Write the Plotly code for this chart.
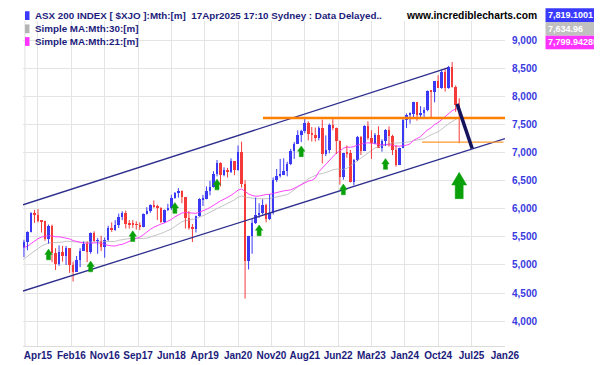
import plotly.graph_objects as go
import pandas as pd

# ---------------- data ----------------
# monthly closes before the visible window (Jun 2012 .. Nov 2014), used for the moving averages
pre_closes = [4095, 4281, 4316, 4387, 4517, 4506, 4649,
              4879, 5104, 4967, 5191, 4926, 4803, 5052, 5135, 5218, 5425, 5320, 5352,
              5190, 5405, 5395, 5489, 5493, 5396, 5633, 5626, 5292, 5526, 5313]

# visible candles Dec 2014 .. Apr 2025
months = [str(p) for p in pd.period_range("2014-12", "2025-04", freq="M")]
opens = [5313,
         5411, 5588, 5929, 5891, 5790, 5777, 5459, 5699, 5207, 5022, 5239, 5166,
         5296, 5005, 4880, 5082, 5252, 5378, 5233, 5562, 5433, 5436, 5317, 5440,
         5666, 5621, 5712, 5864, 5924, 5724, 5721, 5720, 5715, 5682, 5909, 5970,
         6065, 6037, 6016, 5759, 5982, 6012, 6195, 6280, 6320, 6208, 5830, 5667,
         5646, 5865, 6169, 6181, 6326, 6397, 6619, 6813, 6605, 6688, 6663, 6846,
         6684, 7017, 6441, 5077, 5522, 5756, 5898, 5928, 6061, 5816, 5928, 6518,
         6588, 6607, 6673, 6791, 7025, 7162, 7313, 7393, 7535, 7332, 7324, 7256,
         7445, 6971, 7049, 7499, 7435, 7211, 6568, 6993, 6987, 6475, 6863, 7284,
         7039, 7476, 7258, 7178, 7309, 7091, 7203, 7410, 7305, 7049, 6781, 7087,
         7590, 7681, 7699, 7897, 7664, 7702, 7767, 8092, 8091, 8270, 8160, 8436,
         8159, 8532, 8172, 7843]
highs = [5450,
         5600, 5940, 5982, 5996, 5800, 5790, 5720, 5720, 5300, 5350, 5340, 5340,
         5300, 5060, 5160, 5300, 5420, 5420, 5580, 5600, 5480, 5520, 5490, 5700,
         5760, 5800, 5915, 5957, 5970, 5800, 5800, 5780, 5760, 5920, 6030, 6080,
         6150, 6075, 6030, 5990, 6090, 6250, 6300, 6370, 6330, 6210, 5960, 5730,
         5880, 6190, 6250, 6400, 6500, 6670, 6870, 6830, 6740, 6730, 6900, 6850,
         7130, 7197, 6510, 5520, 5820, 6200, 6100, 6170, 6090, 6260, 6560, 6710,
         6890, 6900, 6840, 7070, 7190, 7400, 7410, 7632, 7560, 7460, 7450, 7470,
         7590, 7310, 7520, 7600, 7450, 7220, 7000, 7130, 7050, 6890, 7300, 7300,
         7490, 7560, 7400, 7350, 7470, 7240, 7420, 7470, 7320, 7130, 7090, 7630,
         7700, 7720, 7910, 7900, 7830, 7810, 8110, 8100, 8270, 8380, 8480, 8514,
         8548, 8615, 8200, 7970]
lows = [5140,
        5262, 5580, 5750, 5760, 5580, 5430, 5380, 5050, 4910, 4985, 5060, 5000,
        4860, 4707, 4880, 4960, 5250, 5050, 5200, 5420, 5200, 5250, 5130, 5430,
        5590, 5610, 5660, 5800, 5650, 5650, 5660, 5630, 5620, 5670, 5900, 5930,
        6020, 5800, 5750, 5750, 5960, 5980, 6180, 6200, 6100, 5650, 5630, 5410,
        5580, 5860, 6050, 6170, 6240, 6380, 6580, 6400, 6580, 6560, 6640, 6600,
        6680, 6380, 4402, 4920, 5200, 5730, 5840, 5900, 5760, 5800, 5900, 6480,
        6560, 6600, 6580, 6780, 6890, 7160, 7190, 7350, 7220, 7200, 7200, 7220,
        6810, 6940, 6990, 7400, 6980, 6433, 6520, 6910, 6470, 6420, 6850, 6960,
        7030, 7230, 6890, 7150, 7090, 7020, 7120, 7110, 6960, 6751, 6780, 7080,
        7440, 7520, 7600, 7570, 7600, 7630, 7740, 7630, 7900, 8160, 8140, 8090,
        8140, 8160, 7730, 7169]
closes = [5411,
          5588, 5929, 5891, 5790, 5777, 5459, 5699, 5207, 5022, 5239, 5166, 5296,
          5005, 4880, 5082, 5252, 5378, 5233, 5562, 5433, 5436, 5317, 5440, 5666,
          5621, 5712, 5864, 5924, 5724, 5721, 5720, 5715, 5682, 5909, 5970, 6065,
          6037, 6016, 5759, 5982, 6012, 6195, 6280, 6320, 6208, 5830, 5667, 5646,
          5865, 6169, 6181, 6326, 6397, 6619, 6813, 6605, 6688, 6663, 6846, 6684,
          7017, 6441, 5077, 5522, 5756, 5898, 5928, 6061, 5816, 5928, 6518, 6588,
          6607, 6673, 6791, 7025, 7162, 7313, 7393, 7535, 7332, 7324, 7256, 7445,
          6971, 7049, 7499, 7435, 7211, 6568, 6993, 6987, 6475, 6863, 7284, 7039,
          7476, 7258, 7178, 7309, 7091, 7203, 7410, 7305, 7049, 6781, 7087, 7590,
          7681, 7699, 7897, 7664, 7702, 7767, 8092, 8091, 8270, 8160, 8436, 8159,
          8532, 8172, 7843, 7819.1001]

x_tick_labels = ["Apr15", "Feb16", "Nov16", "Sep17", "Jun18", "Apr19", "Jan20", "Nov20",
                 "Aug21", "Jun22", "Mar23", "Jan24", "Oct24", "Jul25", "Jan26"]
x_tick_step = 9.5          # months between labelled grid lines
y_tick_values = [4000, 4500, 5000, 5500, 6000, 6500, 7000, 7500, 8000, 8500, 9000]

# drawn objects (months counted from Apr 2015, price values)
upper_channel_m = [-4.27, 116.8]
upper_channel_v = [6073, 8513]
lower_channel_m = [-4.27, 133.05]
lower_channel_v = [4536, 7251]
resistance_m = [64.1, 133.05]
resistance_v = [7620, 7620]
support_m = [109.4, 132.6]
support_v = [7191, 7191]
projection_m = [119.4, 123.7]
projection_v = [7870, 7075]
arrow_months = [3, 15, 27, 39, 51, 63, 75, 87, 99]
arrow_tips = [5283, 5070, 5609, 6113, 6530, 5713, 7122, 6443, 6896]
big_arrow_month = [120]
big_arrow_tip = [6652]

value_labels = ["7,819.1001", "7,634.96", "7,799.942857"]

# ---------------- layout geometry ----------------
W, H = 602, 365
L, R, T, B = 15, 497, 13, 346
XMIN, XMAX = -4.27, 133.05
YMIN, YMAX = 3556.5, 9000 + (33 - 13) / 0.0575
PXM = (R - L) / (XMAX - XMIN)
PXV = (B - T) / (YMAX - YMIN)

FONT = "Liberation Sans, Arial, sans-serif"
BLUE = "#3a3af5"
RED = "#f53a3a"
NAVY = "#1c1c7c"

m_index = list(range(-4, -4 + len(months)))

fig = go.Figure()

# moving averages
all_closes = pd.Series(pre_closes + closes)
ma30 = all_closes.rolling(30).mean()
ma21 = all_closes.rolling(21).mean()
start = len(pre_closes) - 1
ma_m = list(range(-5, -5 + len(all_closes) - start))
fig.add_trace(go.Scatter(x=ma_m, y=ma30.iloc[start:].tolist(), mode="lines",
                         line=dict(color="#c4c4c4", width=1), hoverinfo="skip"))
fig.add_trace(go.Scatter(x=ma_m, y=ma21.iloc[start:].tolist(), mode="lines",
                         line=dict(color="#ff44ff", width=1), hoverinfo="skip"))

# candles
for up, col in ((True, BLUE), (False, RED)):
    wx, wy, bx, bh, bb = [], [], [], [], []
    for m, o, h, l, c in zip(m_index, opens, highs, lows, closes):
        if (c >= o) != up:
            continue
        wx += [m, m, None]
        wy += [l, h, None]
        bx.append(m)
        bh.append(max(abs(c - o), 12))
        bb.append(min(o, c))
    fig.add_trace(go.Scatter(x=wx, y=wy, mode="lines", line=dict(color=col, width=1),
                             hoverinfo="skip"))
    fig.add_trace(go.Bar(x=bx, y=bh, base=bb, width=0.72, marker=dict(color=col, line=dict(width=0))))

# channel and level lines
fig.add_trace(go.Scatter(x=upper_channel_m, y=upper_channel_v, mode="lines",
                         line=dict(color="#2e2e8e", width=1.3)))
fig.add_trace(go.Scatter(x=lower_channel_m, y=lower_channel_v, mode="lines",
                         line=dict(color="#2e2e8e", width=1.3)))
fig.add_trace(go.Scatter(x=resistance_m, y=resistance_v, mode="lines",
                         line=dict(color="#ff8000", width=2.6)))
fig.add_trace(go.Scatter(x=support_m, y=support_v, mode="lines",
                         line=dict(color="#ff9a2e", width=1.3)))
fig.add_trace(go.Scatter(x=projection_m, y=projection_v, mode="lines",
                         line=dict(color="#14145e", width=3.5)))


# green arrows (pixel-sized glyphs anchored at data tips)
def arrow_path(ms, tips, head_h, head_hw, shaft_hw, total_h):
    xs, ys = [], []
    for m, v in zip(ms, tips):
        pts = [(0, 0), (head_hw, head_h), (shaft_hw, head_h), (shaft_hw, total_h),
               (-shaft_hw, total_h), (-shaft_hw, head_h), (-head_hw, head_h), (0, 0)]
        for dx, dy in pts:
            xs.append(m + dx / PXM)
            ys.append(v - dy / PXV)
        xs.append(None)
        ys.append(None)
    return xs, ys


ax, ay = arrow_path(arrow_months, arrow_tips, 5.5, 3.7, 2.0, 11)
fig.add_trace(go.Scatter(x=ax, y=ay, mode="lines", fill="toself", fillcolor="#0aa00a",
                         line=dict(color="#0aa00a", width=0.5)))
bx_, by_ = arrow_path(big_arrow_month, big_arrow_tip, 13, 7.5, 4.0, 27)
fig.add_trace(go.Scatter(x=bx_, y=by_, mode="lines", fill="toself", fillcolor="#0aa00a",
                         line=dict(color="#0aa00a", width=0.5)))


def px(xp, yp):
    return (xp - L) / (R - L), (B - yp) / (B - T)


annotations = []
shapes = []


def text(xp, yp, s, color, size=10, anchor="left"):
    x, y = px(xp, yp)
    annotations.append(dict(x=x, y=y, xref="paper", yref="paper", text="<b>" + s + "</b>",
                            showarrow=False, xanchor=anchor, yanchor="middle", borderpad=0,
                            font=dict(family=FONT, size=size, color=color)))


def rect(x0, y0, x1, y1, color):
    a0, b0 = px(x0, y1)
    a1, b1 = px(x1, y0)
    shapes.append(dict(type="rect", xref="paper", yref="paper", x0=a0, y0=b0, x1=a1, y1=b1,
                       fillcolor=color, line=dict(width=0), layer="above"))


legend_rows = [("ASX 200 INDEX [ $XJO ]:Mth:[m]  17Apr2025 17:10 Sydney : Data Delayed..", "#3a3aff", 7.5),
               ("Simple MA:Mth:30:[m]", "#b4b4b4", 21),
               ("Simple MA:Mth:21:[m]", "#ff33ff", 34)]
for s, col, yc in legend_rows:
    rect(17, yc - 4.5, 21.5, yc + 4.5, col)
    text(26, yc, s, NAVY, size=9.8)
text(397, 7.5, "www.incrediblecharts.com", "#000000", size=10.3)

box_cols = ["#3a3aff", "#c0c0c0", "#ff33ff"]
for i, (s, col) in enumerate(zip(value_labels, box_cols)):
    y0 = i * 14
    rect(537.5, y0, 602, y0 + 14, col)
    text(538.5, y0 + 7, s, "#ffffff", size=9)

# left border of the plot
shapes.append(dict(type="line", xref="paper", yref="paper", x0=0.004, x1=0.004, y0=0, y1=1,
                   line=dict(color="#e4e4e4", width=1.2), layer="below"))

fig.update_layout(
    width=W, height=H,
    margin=dict(l=L, r=W - R, t=T, b=H - B, pad=0),
    paper_bgcolor="white", plot_bgcolor="white",
    showlegend=False, barmode="overlay", bargap=0,
    annotations=annotations, shapes=shapes,
    xaxis=dict(range=[XMIN, XMAX], tickmode="array",
               tickvals=[i * x_tick_step for i in range(len(x_tick_labels))],
               ticktext=x_tick_labels, showgrid=True, gridcolor="#e4e4e4", gridwidth=1.2,
               zeroline=False, showline=True, linecolor="#dcdcdc", linewidth=1,
               ticks="", tickfont=dict(family=FONT, size=10, color=NAVY, weight="bold"),
               fixedrange=True),
    yaxis=dict(range=[YMIN, YMAX], side="right", tickmode="array", tickvals=y_tick_values,
               ticktext=[f"{v:,}" for v in y_tick_values], showgrid=True,
               gridcolor="#e4e4e4", gridwidth=1.2, zeroline=False, showline=False,
               ticks="outside", ticklen=4, tickcolor="rgba(0,0,0,0)",
               tickfont=dict(family=FONT, size=10, color="#3a3ae0", weight="bold"),
               fixedrange=True),
)

fig.write_html("out.html")
